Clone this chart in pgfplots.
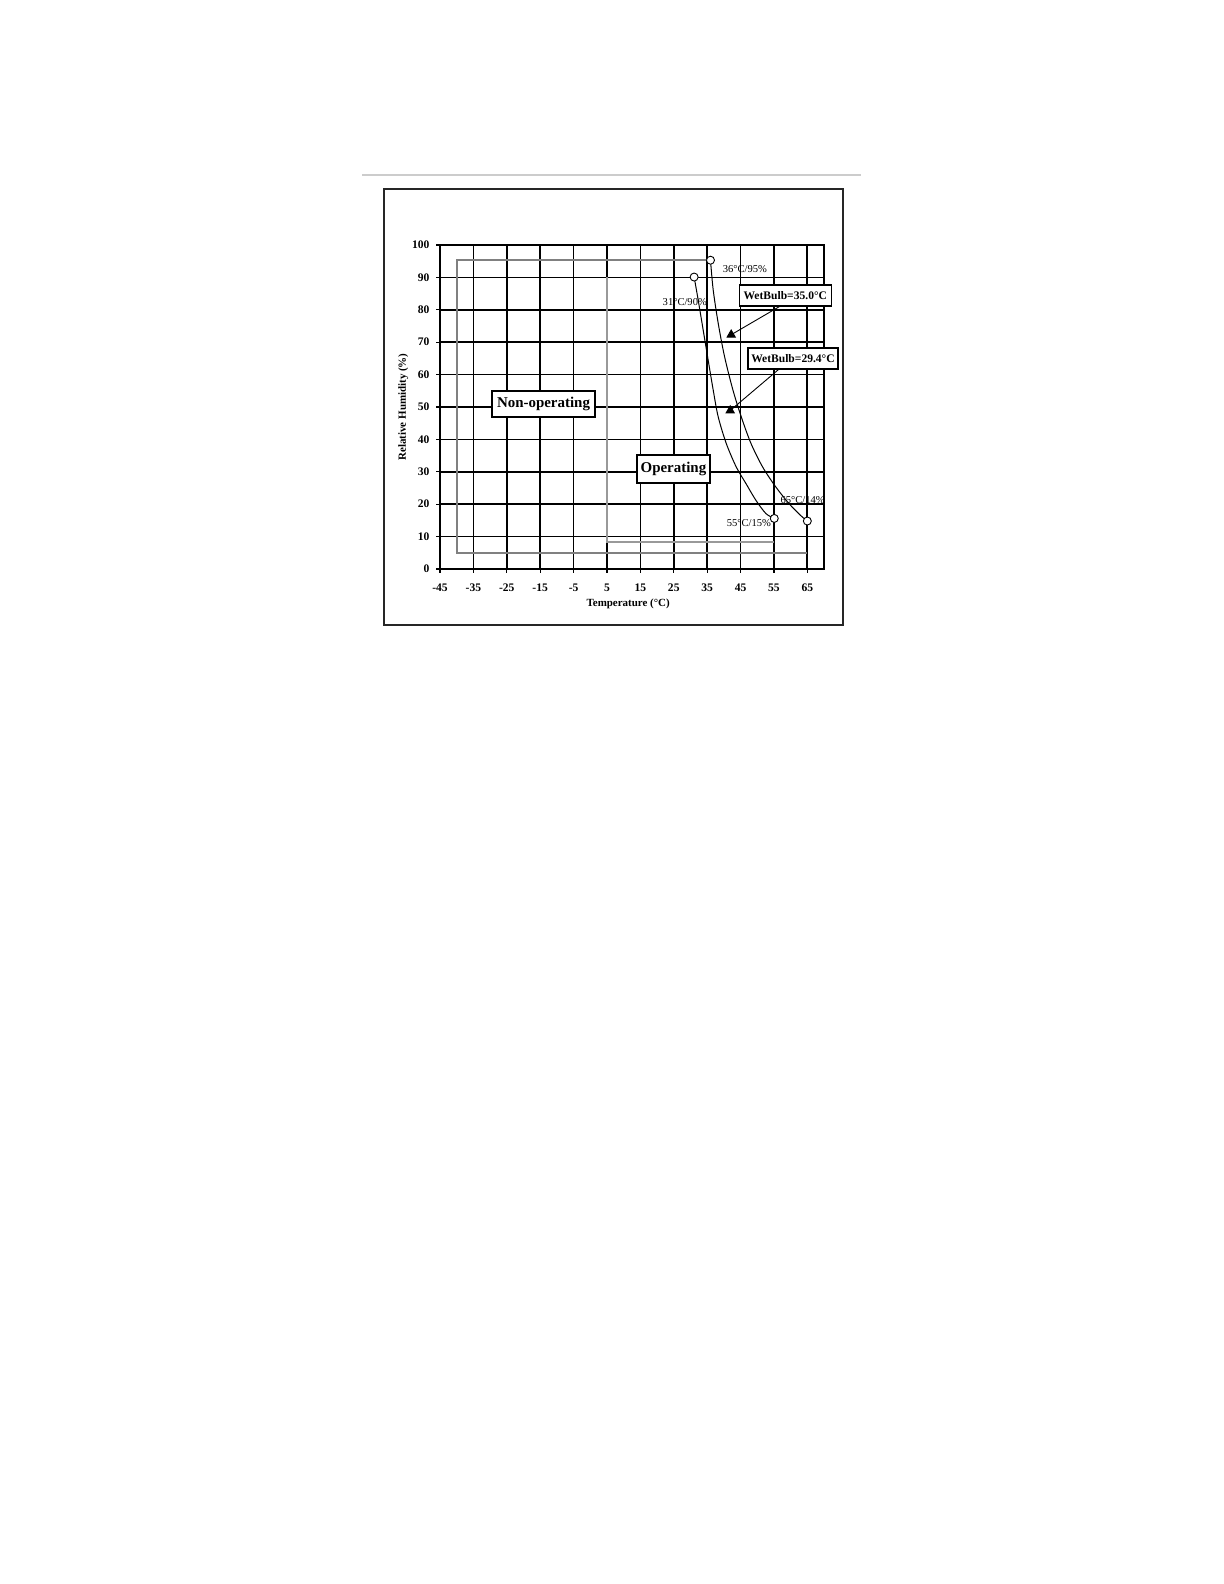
\documentclass[border=0pt]{standalone}
\usepackage{fontspec}
\setmainfont{Liberation Serif}
\usepackage{pgfplots}
\pgfplotsset{compat=1.18}
\begin{document}
\begin{tikzpicture}[x=1bp,y=1bp]
\useasboundingbox (0,0) rectangle (612,792);
% page rule and chart frame
\draw[black!20, line width=0.6bp] (181,704.5) -- (430.5,704.5);
\draw[black!85, line width=1bp] (192,479.5) rectangle (421.5,697.5);
\begin{axis}[
    at={(220bp,507.5bp)}, anchor=south west,
    scale only axis, width=192bp, height=162bp,
    xmin=-45, xmax=70, ymin=0, ymax=100,
    xtick={-45,-35,...,65}, ytick={0,10,...,100},
    grid=major,
    major grid style={black, line width=0.85bp},
    axis line style={black, line width=0.85bp},
    tick align=outside, tick pos=left,
    major tick length=1.8bp,
    tick style={black, line width=0.6bp},
    /pgf/number format/assume math mode=true,
    ticklabel style={font=\fontsize{5.8}{6}\selectfont\bfseries},
    xticklabel style={yshift=-2bp},
    xlabel={Temperature (°C)},
    ylabel={Relative Humidity (\%)},
    label style={font=\fontsize{5.5}{6}\selectfont\bfseries},
    xlabel style={at={(axis description cs:0.49,-0.108)}, anchor=center},
    ylabel style={at={(axis description cs:-0.096,0.5)}, anchor=center},
    clip=false,
]
% non-operating envelope (parts lying on grid lines left out)
\addplot[gray, line width=0.8bp] coordinates {(36,95.3) (-40,95.3) (-40,5) (65,5)};
% operating envelope
\addplot[gray!80, line width=0.8bp] coordinates {(5,90.1) (5,8.3) (55.1,8.3)};
% wet bulb 29.4 curve
\addplot[black, line width=0.5bp, smooth] coordinates {
    (31.1,90.1) (32.3,83.1) (33.8,73.8) (35.3,64.5) (36.8,55.3) (38.3,47.0)
    (40.7,38.8) (43.7,31.5) (46.6,26.4) (49.6,21.2) (52.6,17.1) (55.1,15.6)};
% wet bulb 35.0 curve
\addplot[black, line width=0.5bp, smooth] coordinates {
    (36.0,95.3) (36.8,86.2) (38.3,75.9) (40.2,65.6) (42.7,55.3) (45.2,47.0)
    (48.1,38.8) (51.6,31.5) (55.5,25.4) (59.5,20.2) (62.9,16.6) (65.0,14.8)};
% leader lines and arrow heads
\addplot[black, line width=0.45bp] coordinates {(57.0,81.2) (42.2,72.3)};
\addplot[black, line width=0.45bp] coordinates {(61.0,65.6) (41.9,48.9)};
\addplot[only marks, mark=triangle*, mark size=2.4bp, black] coordinates {(42.2,72.3) (41.9,48.9)};
% end points
\addplot[only marks, mark=*, mark size=2bp, mark options={fill=white, draw=black, line width=0.45bp}]
    coordinates {(31.1,90.1) (36.0,95.3) (55.1,15.6) (65.0,14.8)};

\node[draw=black, line width=0.8bp, fill=white, inner sep=0.5bp, minimum width=51.5bp, minimum height=13bp,
      font=\fontsize{7.5}{8}\selectfont\bfseries] at (axis cs:-14,50.9) {Non-operating};
\node[draw=black, line width=0.8bp, fill=white, inner sep=0.5bp, minimum width=36.5bp, minimum height=14bp,
      font=\fontsize{7.5}{8}\selectfont\bfseries] at (axis cs:24.9,30.9) {Operating};
\node[draw=black, line width=0.7bp, fill=white, inner sep=0.5bp, minimum width=46bp, minimum height=10.5bp,
      font=\fontsize{5.8}{6}\selectfont\bfseries] at (axis cs:58.4,84.4) {WetBulb=35.0°C};
\node[draw=black, line width=0.7bp, fill=white, inner sep=0.5bp, minimum width=45bp, minimum height=10.5bp,
      font=\fontsize{5.8}{6}\selectfont\bfseries] at (axis cs:60.7,64.9) {WetBulb=29.4°C};

\node[font=\fontsize{5.3}{6}\selectfont, inner sep=0pt] at (axis cs:46.3,92.6) {36°C/95\%};
\node[font=\fontsize{5.3}{6}\selectfont, inner sep=0pt] at (axis cs:28.3,82.5) {31°C/90\%};
\node[font=\fontsize{5.3}{6}\selectfont, inner sep=0pt] at (axis cs:47.5,14.2) {55°C/15\%};
\node[font=\fontsize{5.3}{6}\selectfont, inner sep=0pt] at (axis cs:63.6,21.4) {65°C/14\%};
\end{axis}
\end{tikzpicture}
\end{document}
